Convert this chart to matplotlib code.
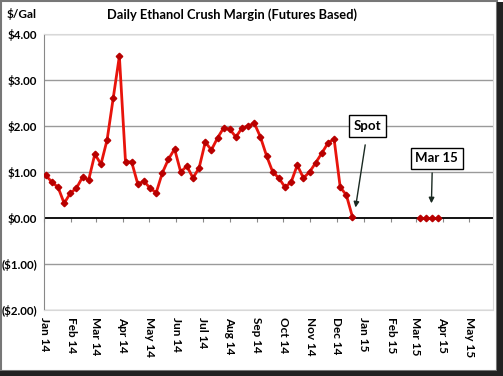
import numpy as np
import pandas as pd
import matplotlib
matplotlib.use("Agg")
import matplotlib.pyplot as plt
from matplotlib.patches import Rectangle

plt.rcParams['font.family'] = ['Lato', 'DejaVu Sans']

# weekly margins, Fridays from Jan 3 2014
week_start = "2014-01-03"
margin = [0.93, 0.78, 0.67, 0.32, 0.54, 0.65, 0.89, 0.83, 1.39, 1.17,
          1.70, 2.61, 3.52, 1.22, 1.22, 0.74, 0.80, 0.65, 0.55, 0.98,
          1.28, 1.50, 1.00, 1.13, 0.87, 1.09, 1.65, 1.48, 1.74, 1.96,
          1.93, 1.76, 1.96, 2.00, 2.06, 1.76, 1.35, 1.00, 0.87, 0.67,
          0.78, 1.15, 0.87, 1.00, 1.20, 1.41, 1.63, 1.72, 0.67, 0.50, 0.02]
fut_dates = ["2015-03-06", "2015-03-13", "2015-03-20", "2015-03-27"]
fut_margin = [0.0, 0.0, 0.0, 0.0]

ytick_vals = [4, 3, 2, 1, 0, -1, -2]
ytick_lbls = ["$4.00", "$3.00", "$2.00", "$1.00", "$0.00", "($1.00)", "($2.00)"]

dates = pd.date_range(week_start, periods=len(margin), freq="7D")
fdates = pd.to_datetime(fut_dates)

fig = plt.figure(figsize=(5.03, 3.76), dpi=100)
ax = fig.add_axes([0.0875, 0.1755, 0.892, 0.734])

for v in ytick_vals:
    if v != 0:
        ax.axhline(v, color="#9a9a9a", lw=1.0, zorder=1)
ax.axhline(0, color="black", lw=1.3, zorder=2)

ax.plot(dates, margin, color="#e8140c", lw=2.0, marker="D", ms=3.3,
        mfc="#b80000", mec="#b80000", zorder=3)
ax.plot(fdates, fut_margin, color="#e8140c", lw=2.0, marker="D", ms=3.3,
        mfc="#b80000", mec="#b80000", zorder=3)

ax.set_ylim(-2, 4)
ax.set_xlim(pd.Timestamp("2014-01-01"), pd.Timestamp("2015-05-28"))
ax.set_yticks(ytick_vals)
ax.set_yticklabels(ytick_lbls, fontsize=8.3, fontweight="bold")
ax.tick_params(axis="y", length=0, pad=5)

months = pd.date_range("2014-01-01", "2015-05-01", freq="MS")
ax.set_xticks(months)
ax.set_xticklabels([d.strftime("%b %y") for d in months], rotation=270,
                   fontsize=8.5, fontweight="bold")
ax.tick_params(axis="x", length=0, pad=5)

sec = ax.secondary_xaxis(1 / 3)
sec.set_xticks(months)
sec.tick_params(axis="x", direction="out", length=3, color="#888888", labelbottom=False)
sec.spines["bottom"].set_visible(False)
sec.spines["top"].set_visible(False)
sec.xaxis.set_ticks_position("bottom")
sec.set_xticklabels([])

for s in ["top", "right", "bottom"]:
    ax.spines[s].set_color("#d8d8d8")
ax.spines["left"].set_color("#888888")

box = dict(boxstyle="square,pad=0.35", fc="white", ec="black", lw=1.0)
ax.annotate("", xy=(pd.Timestamp("2014-12-22"), 0.17),
            xytext=(pd.Timestamp("2015-01-03"), 1.65),
            arrowprops=dict(arrowstyle="-|>", color="#1a2a22", lw=1.0, mutation_scale=8))
ax.text(pd.Timestamp("2015-01-05"), 2.0, "Spot", ha="center", va="center",
        fontsize=9.5, fontweight="bold", bbox=box, zorder=5)
ax.annotate("", xy=(pd.Timestamp("2015-03-19"), 0.26),
            xytext=(pd.Timestamp("2015-03-20"), 1.04),
            arrowprops=dict(arrowstyle="-|>", color="#1a2a22", lw=1.0, mutation_scale=8))
ax.text(pd.Timestamp("2015-03-25"), 1.30, "Mar 15", ha="center", va="center",
        fontsize=9.5, fontweight="bold", bbox=box, zorder=5)

fig.text(0.461, 0.962, "Daily Ethanol Crush Margin (Futures Based)", ha="center",
         va="center", fontsize=9.3, fontweight="bold")
fig.text(0.042, 0.962, "$/Gal", ha="center", va="center", fontsize=8.5, fontweight="bold")

fig.patches.append(Rectangle((0.002, 0.012), 0.986, 0.985, transform=fig.transFigure,
                             fill=False, ec="#777777", lw=1.5))
fig.patches.append(Rectangle((0.988, 0.0), 0.012, 0.995, transform=fig.transFigure,
                             fc="#222222", ec="none"))
fig.patches.append(Rectangle((0.0, 0.0), 1.0, 0.014, transform=fig.transFigure,
                             fc="#222222", ec="none"))

fig.savefig("out.png", dpi=100)
